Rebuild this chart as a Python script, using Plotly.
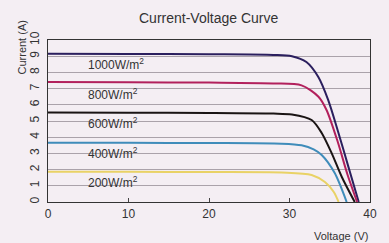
import plotly.graph_objects as go

labels = ["1000W/m<sup>2</sup>", "800W/m<sup>2</sup>", "600W/m<sup>2</sup>", "400W/m<sup>2</sup>", "200W/m<sup>2</sup>"]

v_1000 = [0, 10, 20, 28, 30.3, 32.1, 33.6, 34.8, 36.0, 37.3, 38.6]
i_1000 = [9.15, 9.14, 9.12, 9.08, 9.0, 8.64, 7.7, 6.3, 4.4, 2.2, 0]

v_800 = [0, 10, 20, 28, 31.5, 33.6, 34.6, 36.0, 37.2, 38.4]
i_800 = [7.4, 7.39, 7.37, 7.32, 7.2, 6.5, 5.68, 3.7, 1.7, 0]

v_600 = [0, 10, 20, 28, 30.3, 32.75, 34.0, 35.25, 36.5, 38.1]
i_600 = [5.52, 5.51, 5.5, 5.46, 5.4, 5.06, 4.26, 3.0, 1.54, 0]

v_400 = [0, 10, 20, 29, 31.5, 33.0, 34.0, 35.6, 37.1]
i_400 = [3.66, 3.65, 3.64, 3.6, 3.5, 3.25, 2.9, 1.8, 0]

v_200 = [0, 10, 20, 29, 32.75, 34.4, 35.5, 36.1]
i_200 = [1.87, 1.86, 1.85, 1.82, 1.67, 1.23, 0.62, 0]

x_ticks = [0, 10, 20, 30, 40]
y_ticks = list(range(0, 11))

series = [
    (v_1000, i_1000, "#2b1f5e"),
    (v_800, i_800, "#b2205c"),
    (v_600, i_600, "#1a1414"),
    (v_400, i_400, "#3f8cba"),
    (v_200, i_200, "#e9d266"),
]
label_y = [8.5, 6.68, 4.88, 3.02, 1.23]

bg = "#f4eef3"
fig = go.Figure()
for (vx, iy, col), name in zip(series, labels):
    fig.add_trace(go.Scatter(x=vx, y=iy, mode="lines", name=name,
                             line=dict(color=col, width=2, shape="spline", smoothing=0.8),
                             showlegend=False, hoverinfo="skip"))

for name, ly in zip(labels, label_y):
    fig.add_annotation(x=5, y=ly, xshift=-2, text=name, showarrow=False, xanchor="left", yanchor="middle",
                       font=dict(size=12, color="#333333"))

fig.add_annotation(x=0.5, y=1.0, xref="paper", yref="paper", yshift=22, text="Current-Voltage Curve",
                   showarrow=False, xanchor="center", yanchor="middle",
                   font=dict(size=14, color="#333333"))
fig.add_annotation(x=1.0, y=0, xref="paper", yref="paper", yshift=-34, xshift=0, text="Voltage (V)",
                   showarrow=False, xanchor="right", yanchor="middle",
                   font=dict(size=11, color="#333333"))
fig.add_annotation(x=0, y=1.0, xref="paper", yref="paper", xshift=-27, yshift=-7.5, text="Current (A)",
                   showarrow=False, xanchor="center", yanchor="middle", textangle=-90,
                   font=dict(size=11, color="#333333"))

fig.update_layout(
    width=389, height=243,
    margin=dict(l=48, r=19, t=40, b=41),
    paper_bgcolor=bg, plot_bgcolor=bg,
    font=dict(family="Liberation Sans, Arial, sans-serif", size=11, color="#333333"),
)
fig.update_xaxes(range=[0, 40], tickvals=x_ticks, ticks="inside", ticklen=4, tickcolor="#444",
                 showgrid=False, zeroline=False, showline=True, linecolor="#333", linewidth=1.2,
                 mirror=True, tickfont=dict(size=12, color="#333"), automargin=False)
fig.update_yaxes(range=[0, 10], tickvals=y_ticks, tickangle=-90, ticks="", ticklabelstandoff=3,
                 showgrid=True, gridcolor="#aaa2aa", gridwidth=1, zeroline=False,
                 showline=True, linecolor="#333", linewidth=1.2, mirror=True,
                 tickfont=dict(size=12, color="#333"), automargin=False)

fig.write_html("out.html", config={"displayModeBar": False},
               post_script="document.body.style.margin='0';document.body.style.overflow='hidden';")
